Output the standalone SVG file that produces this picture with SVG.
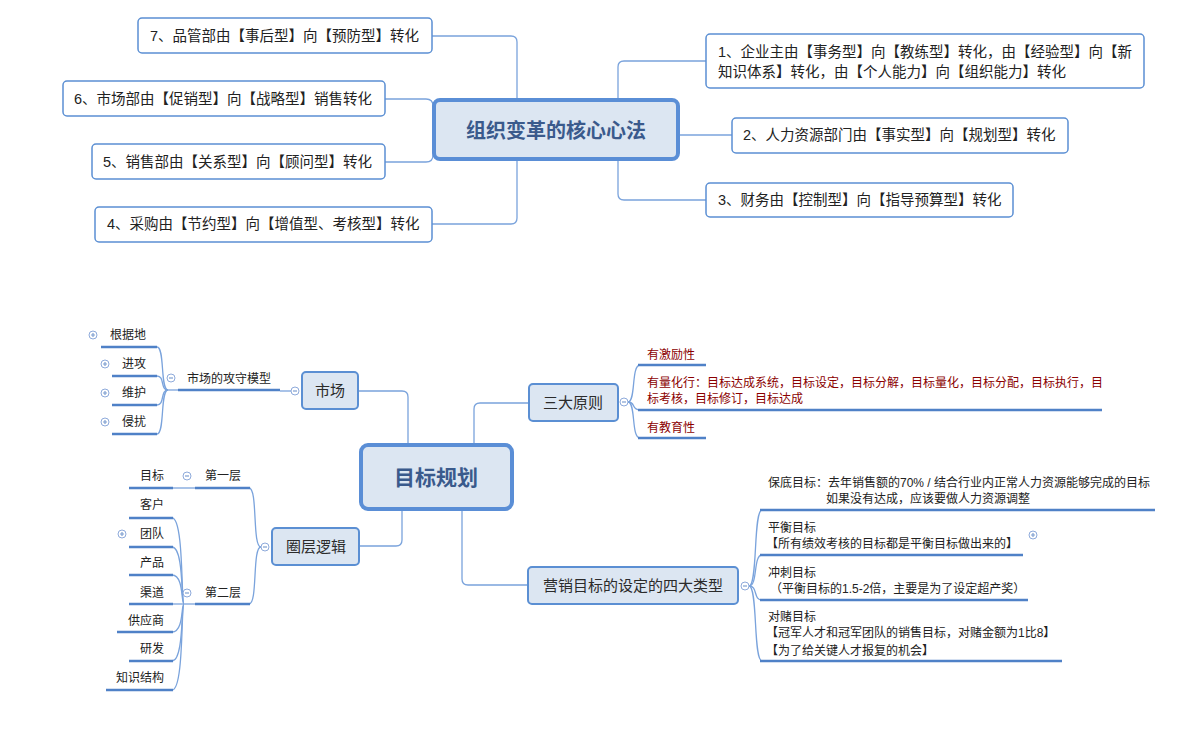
<svg xmlns="http://www.w3.org/2000/svg" width="1200" height="743" viewBox="0 0 1200 743">
<style>
text{font-family:"Liberation Sans","Noto Sans CJK SC",sans-serif;fill:#222}
.t14{font-size:14.5px}
.t12{font-size:12px}
.t15{font-size:15px;fill:#2b2b2b}
.red{fill:#8b0000}
.root{fill:#dce6f2;stroke:#5a8ed6;stroke-width:4}
.rtext{font-weight:bold;fill:#3a5a8c}
.box{fill:#fff;stroke:#5b8fd3;stroke-width:1.5}
.l1{fill:#dce6f2;stroke:#5b8fd3;stroke-width:2}
.c{fill:none;stroke:#7aa3dc;stroke-width:1.3}
.u{fill:none;stroke:#4f81c7;stroke-width:2.5}
.dot{fill:#fff;stroke:#8eaadb;stroke-width:1}
.dm{stroke:#7f9fd0;stroke-width:1.2}
</style>
<defs>
<g id="minus"><circle class="dot" r="4"/><path class="dm" d="M-2,0H2"/></g>
<g id="plus"><circle class="dot" r="4"/><path class="dm" d="M-2,0H2M0,-2V2"/></g>
</defs>
<rect width="1200" height="743" fill="#fff"/>

<g id="connectors">
<path class="c" d="M432,36 H511 Q517,36 517,42 V100"/>
<path class="c" d="M432,224 H511 Q517,224 517,218 V160"/>
<path class="c" d="M385,99 H426 Q433,99 433,106 V112"/>
<path class="c" d="M385,162 H426 Q433,162 433,155 V150"/>
<path class="c" d="M618,100 V67 Q618,61 624,61 H706"/>
<path class="c" d="M678,135 H732"/>
<path class="c" d="M618,160 V194 Q618,200 624,200 H706"/>

<path class="c" d="M358,391 H402 Q408,391 408,397 V445"/>
<path class="c" d="M474,445 V409 Q474,403 480,403 H529"/>
<path class="c" d="M359,546 H396 Q402,546 402,540 V509"/>
<path class="c" d="M462,509 V579 Q462,585 468,585 H528"/>

<path class="c" d="M291,391 H280"/>
<path class="c" d="M178,390 H168"/>
<path class="c" d="M168,390 C160,390 165,347 157,347"/>
<path class="c" d="M168,390 C160,390 165,376 157,376"/>
<path class="c" d="M168,390 C160,390 165,405 157,405"/>
<path class="c" d="M168,390 C160,390 165,434 157,434"/>

<path class="c" d="M261,547 C252,547 258,488 249,488"/>
<path class="c" d="M261,547 C252,547 258,604 249,604"/>
<path class="c" d="M173,488 H195"/>
<path class="c" d="M173,604 H195"/>
<path class="c" d="M184,604 C181,604 184,518 172,518"/>
<path class="c" d="M184,604 C181,604 184,547 172,547"/>
<path class="c" d="M184,604 C181,604 184,575 172,575"/>
<path class="c" d="M184,604 C181,604 184,632 172,632"/>
<path class="c" d="M184,604 C181,604 184,661 172,661"/>
<path class="c" d="M184,604 C181,604 184,690 172,690"/>

<path class="c" d="M628,402 C636,402 631,365 640,365"/>
<path class="c" d="M628,402 C636,402 631,410 640,410"/>
<path class="c" d="M628,402 C636,402 631,438 640,438"/>

<path class="c" d="M749,586 C758,586 753,510 762,510"/>
<path class="c" d="M749,586 C758,586 753,555 762,555"/>
<path class="c" d="M749,586 C758,586 753,600 762,600"/>
<path class="c" d="M749,586 C758,586 753,661 762,661"/>
</g>

<g id="n-root1">
<rect class="root" x="434" y="100" width="244" height="59" rx="6"/>
<text class="rtext" x="556" y="138" font-size="20" text-anchor="middle">组织变革的核心心法</text>
</g>
<g id="n7"><rect class="box" x="138" y="18" width="294" height="35" rx="4"/><text class="t14" x="150" y="41">7、品管部由【事后型】向【预防型】转化</text></g>
<g id="n6"><rect class="box" x="63" y="81" width="322" height="35" rx="4"/><text class="t14" x="74" y="104">6、市场部由【促销型】向【战略型】销售转化</text></g>
<g id="n5"><rect class="box" x="92" y="144" width="293" height="35" rx="4"/><text class="t14" x="103" y="167">5、销售部由【关系型】向【顾问型】转化</text></g>
<g id="n4"><rect class="box" x="95" y="207" width="337" height="35" rx="4"/><text class="t14" x="107" y="229">4、采购由【节约型】向【增值型、考核型】转化</text></g>
<g id="n1"><rect class="box" x="706" y="34" width="438" height="54" rx="4"/><text class="t14" x="718" y="57">1、企业主由【事务型】向【教练型】转化，由【经验型】向【新</text><text class="t14" x="718" y="77">知识体系】转化，由【个人能力】向【组织能力】转化</text></g>
<g id="n2"><rect class="box" x="732" y="118" width="336" height="35" rx="4"/><text class="t14" x="743" y="140">2、人力资源部门由【事实型】向【规划型】转化</text></g>
<g id="n3"><rect class="box" x="706" y="183" width="307" height="34" rx="4"/><text class="t14" x="718" y="205">3、财务由【控制型】向【指导预算型】转化</text></g>

<g id="n-root2">
<rect class="root" x="361" y="445" width="151" height="64" rx="7"/>
<text class="rtext" x="436" y="485" font-size="21" text-anchor="middle">目标规划</text>
</g>

<g id="n-market">
<rect class="l1" x="302" y="372" width="56" height="37" rx="4"/>
<text class="t15" x="330" y="396" text-anchor="middle">市场</text>
<use href="#minus" x="295" y="391"/>
</g>
<g id="n-model">
<text class="t12" x="187" y="383">市场的攻守模型</text>
<path class="u" d="M178,390 H280"/>
<use href="#minus" x="171" y="378"/>
</g>
<g id="n-gjd"><text class="t12" x="146" y="339" text-anchor="end">根据地</text><path class="u" d="M101,347 H157"/><use href="#plus" x="93" y="335"/></g>
<g id="n-jg"><text class="t12" x="146" y="368" text-anchor="end">进攻</text><path class="u" d="M112,376 H157"/><use href="#plus" x="105" y="364"/></g>
<g id="n-wh"><text class="t12" x="146" y="397" text-anchor="end">维护</text><path class="u" d="M112,405 H157"/><use href="#plus" x="105" y="393"/></g>
<g id="n-qr"><text class="t12" x="146" y="426" text-anchor="end">侵扰</text><path class="u" d="M112,434 H157"/><use href="#plus" x="105" y="422"/></g>

<g id="n-qcl">
<rect class="l1" x="272" y="528" width="87" height="37" rx="4"/>
<text class="t15" x="316" y="552" text-anchor="middle">圈层逻辑</text>
<use href="#minus" x="265" y="547"/>
</g>
<g id="n-l1"><text class="t12" x="205" y="480">第一层</text><path class="u" d="M195,488 H250"/><use href="#minus" x="187" y="476"/></g>
<g id="n-l2"><text class="t12" x="205" y="597">第二层</text><path class="u" d="M195,604 H250"/><use href="#minus" x="187" y="593"/></g>
<g id="n-mb"><text class="t12" x="164" y="480" text-anchor="end">目标</text><path class="u" d="M129,488 H173"/></g>
<g id="n-kh"><text class="t12" x="164" y="509" text-anchor="end">客户</text><path class="u" d="M129,518 H173"/></g>
<g id="n-td"><text class="t12" x="164" y="538" text-anchor="end">团队</text><path class="u" d="M129,547 H173"/><use href="#plus" x="122" y="534"/></g>
<g id="n-cp"><text class="t12" x="164" y="567" text-anchor="end">产品</text><path class="u" d="M129,575 H173"/></g>
<g id="n-qd"><text class="t12" x="164" y="597" text-anchor="end">渠道</text><path class="u" d="M129,604 H173"/></g>
<g id="n-gys"><text class="t12" x="164" y="625" text-anchor="end">供应商</text><path class="u" d="M117,632 H173"/></g>
<g id="n-yf"><text class="t12" x="164" y="653" text-anchor="end">研发</text><path class="u" d="M129,661 H173"/></g>
<g id="n-zs"><text class="t12" x="164" y="682" text-anchor="end">知识结构</text><path class="u" d="M106,690 H173"/></g>

<g id="n-sdyz">
<rect class="l1" x="529" y="384" width="89" height="37" rx="4"/>
<text class="t15" x="573" y="408" text-anchor="middle">三大原则</text>
<use href="#minus" x="624" y="402"/>
</g>
<g id="n-jl"><text class="t12 red" x="647" y="359">有激励性</text><path class="u" d="M638,365 H706"/></g>
<g id="n-lh"><text class="t12 red" x="647" y="387">有量化行：目标达成系统，目标设定，目标分解，目标量化，目标分配，目标执行，目</text><text class="t12 red" x="647" y="403">标考核，目标修订，目标达成</text><path class="u" d="M638,410 H1102"/></g>
<g id="n-jy"><text class="t12 red" x="647" y="432">有教育性</text><path class="u" d="M638,438 H706"/></g>

<g id="n-yx">
<rect class="l1" x="528" y="567" width="210" height="37" rx="4"/>
<text class="t15" x="633" y="591" text-anchor="middle">营销目标的设定的四大类型</text>
<use href="#minus" x="745" y="586"/>
</g>
<g id="n-bd"><text class="t12" x="768" y="487">保底目标：去年销售额的70% / 结合行业内正常人力资源能够完成的目标</text><text class="t12" x="826" y="503">如果没有达成，应该要做人力资源调整</text><path class="u" d="M760,510 H1155"/></g>
<g id="n-ph"><text class="t12" x="768" y="532">平衡目标</text><text class="t12" x="766" y="548">【所有绩效考核的目标都是平衡目标做出来的】</text><path class="u" d="M760,555 H1023"/><use href="#plus" x="1033" y="535"/></g>
<g id="n-cc"><text class="t12" x="768" y="577">冲刺目标</text><text class="t12" x="770" y="593">（平衡目标的1.5-2倍，主要是为了设定超产奖）</text><path class="u" d="M760,600 H1028"/></g>
<g id="n-dd"><text class="t12" x="768" y="621">对赌目标</text><text class="t12" x="766" y="637">【冠军人才和冠军团队的销售目标，对赌金额为1比8】</text><text class="t12" x="766" y="655">【为了给关键人才报复的机会】</text><path class="u" d="M760,661 H1062"/></g>
</svg>
